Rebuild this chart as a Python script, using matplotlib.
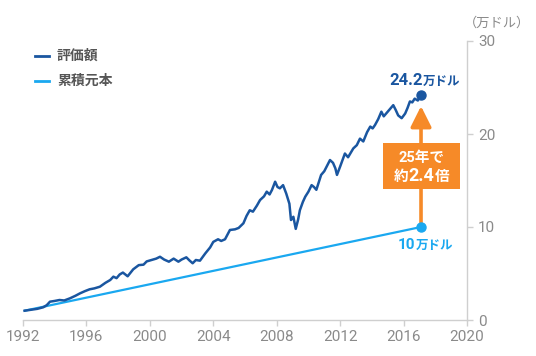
import matplotlib
matplotlib.use("Agg")
import matplotlib.pyplot as plt
from matplotlib.patches import Rectangle

# ---- data ----
years = [1992.10, 1992.5, 1992.9, 1993.28, 1993.5, 1993.7, 1994.0, 1994.3, 1994.6, 1994.96,
         1995.3, 1995.6, 1995.9, 1996.2, 1996.5, 1996.85, 1997.2, 1997.5, 1997.7, 1997.9,
         1998.1, 1998.3, 1998.6, 1998.95, 1999.3, 1999.6, 1999.8, 2000.1, 2000.4, 2000.64,
         2000.9, 2001.2, 2001.5, 2001.8, 2002.0, 2002.3, 2002.5, 2002.7, 2002.9, 2003.16,
         2003.5, 2003.8, 2004.0, 2004.3, 2004.5, 2004.74, 2005.05, 2005.37, 2005.6, 2005.9,
         2006.1, 2006.3, 2006.5, 2006.75, 2006.95, 2007.2, 2007.37, 2007.55, 2007.7, 2007.9,
         2008.05, 2008.2, 2008.4, 2008.6, 2008.8, 2008.9, 2009.05, 2009.2, 2009.35, 2009.46,
         2009.65, 2009.8, 2010.0, 2010.2, 2010.35, 2010.5, 2010.8, 2011.0, 2011.15, 2011.36,
         2011.55, 2011.7, 2011.8, 2012.0, 2012.3, 2012.5, 2012.83, 2013.05, 2013.25, 2013.46,
         2013.7, 2013.9, 2014.05, 2014.2, 2014.4, 2014.6, 2014.75, 2014.9, 2015.1, 2015.35,
         2015.5, 2015.66, 2015.88, 2016.1, 2016.25, 2016.4, 2016.55, 2016.7, 2016.9, 2017.1]
valuation = [1.00, 1.10, 1.20, 1.37, 1.60, 1.97, 2.05, 2.15, 2.10, 2.33,
             2.60, 2.87, 3.10, 3.30, 3.40, 3.58, 4.00, 4.30, 4.66, 4.50,
             4.90, 5.10, 4.70, 5.45, 5.90, 5.95, 6.30, 6.45, 6.60, 6.80,
             6.50, 6.27, 6.60, 6.27, 6.50, 6.74, 6.40, 6.10, 6.45, 6.38,
             7.17, 7.80, 8.40, 8.68, 8.50, 8.68, 9.68, 9.75, 9.90, 10.40,
             11.20, 11.80, 11.65, 12.30, 12.90, 13.30, 13.80, 13.50, 13.98, 14.87,
             14.30, 14.16, 14.50, 13.60, 12.50, 10.75, 11.10, 9.80, 10.80, 11.80,
             12.70, 13.26, 13.80, 14.50, 14.30, 14.00, 15.60, 16.00, 16.50, 17.20,
             16.90, 16.30, 15.60, 16.50, 17.90, 17.50, 18.45, 18.80, 19.50, 19.20,
             20.20, 20.80, 20.60, 20.97, 21.60, 22.40, 21.90, 22.20, 22.60, 23.10,
             22.60, 22.00, 21.70, 22.20, 22.80, 23.50, 23.40, 23.80, 23.60, 24.20]
principal_years = [1992.10, 2017.1]
principal = [1.0, 10.0]
xticks = [1992, 1996, 2000, 2004, 2008, 2012, 2016, 2020]
yticks = [0, 10, 20, 30]
legend_labels = ["評価額", "累積元本"]
final_value_label = ("24.2", "万ドル")
principal_label = ("10", "万ドル")
box_line1 = ("25年で",)
box_line2 = ("約", "2.4", "倍")
unit_label = "（万ドル）"

DARK = "#1a56a0"
LIGHT = "#1aa8f0"
ORANGE = "#f68a28"
GRAY = "#8a8a8a"
AX = "#cfcfcf"
FAM = ["Roboto", "Noto Sans CJK JP", "DejaVu Sans"]
JP = ["Noto Sans CJK JP", "DejaVu Sans"]

W, H = 536, 356
fig = plt.figure(figsize=(W / 100, H / 100), dpi=100)
ax = fig.add_axes([23 / W, 1 - 320 / H, (467 - 23) / W, (320 - 41) / H])
renderer = fig.canvas.get_renderer()

def P(x, y):
    return (x / W, 1 - y / H)

def run(x0, y, segs, color, align="left", zorder=6):
    """segs: list of (text, size, family, gap_after_px)"""
    arts = []
    widths = []
    for txt, size, fam, gap in segs:
        t = fig.text(0, 0, txt, color=color, fontsize=size, fontweight="bold",
                     family=fam, ha="left", va="baseline", zorder=zorder)
        w = t.get_window_extent(renderer).width
        arts.append(t)
        widths.append(w + gap)
    total = sum(widths) - segs[-1][3]
    x = x0 - total / 2 if align == "center" else x0
    for t, w in zip(arts, widths):
        t.set_position(P(x, y))
        x += w

ax.plot(principal_years, principal, color=LIGHT, lw=1.6, solid_capstyle="round", zorder=2)
ax.plot(years, valuation, color=DARK, lw=1.8, solid_joinstyle="round", zorder=3)
ax.plot([principal_years[-1]], [principal[-1]], "o", color=LIGHT, ms=6.5, zorder=4)
ax.plot([years[-1]], [valuation[-1]], "o", color=DARK, ms=6.5, zorder=4)

ax.set_xlim(1992, 2020)
ax.set_ylim(0, 30)
ax.set_xticks(xticks)
ax.set_yticks(yticks)
for s in ["left", "top"]:
    ax.spines[s].set_visible(False)
for s in ["right", "bottom"]:
    ax.spines[s].set_color(AX)
    ax.spines[s].set_linewidth(1.0)
ax.yaxis.tick_right()
ax.tick_params(axis="both", colors=AX, labelcolor=GRAY, length=4, width=1.0, labelsize=11)
ax.tick_params(axis="y", pad=4)
ax.tick_params(axis="x", pad=3)
for lab in ax.get_xticklabels() + ax.get_yticklabels():
    lab.set_family(FAM)

# arrow
ax.annotate("", xy=(years[-1], 23.0), xytext=(principal_years[-1], principal[-1]),
            arrowprops=dict(arrowstyle="-|>,head_length=0.9,head_width=0.45", color=ORANGE,
                            lw=2.6, shrinkA=0, shrinkB=0, mutation_scale=14), zorder=3)

# orange box
fig.patches.append(Rectangle(P(383, 189), 77 / W, 46 / H, transform=fig.transFigure,
                             facecolor=ORANGE, edgecolor="none", zorder=5))
run(421.5, 162, [(box_line1[0], 10.5, FAM, 0)], "white", align="center")
run(421.5, 181, [(box_line2[0], 10.5, JP, 0), (box_line2[1], 13, FAM, 0),
                 (box_line2[2], 10.5, JP, 0)], "white", align="center")

# value labels
run(389, 85, [(final_value_label[0], 12, FAM, 0), (final_value_label[1], 9, JP, 0)], DARK)
run(398, 249, [(principal_label[0], 11, FAM, 0), (principal_label[1], 9, JP, 0)], LIGHT)

# legend
for i, (lab, col) in enumerate(zip(legend_labels, [DARK, LIGHT])):
    y = 56 + i * 24.5
    fig.add_artist(plt.Line2D([35 / W, 49 / W], [1 - y / H, 1 - y / H], color=col, lw=2.0,
                              transform=fig.transFigure))
    fig.text(*P(57, y), lab, color="#555555", fontsize=10, fontweight="bold",
             family=JP, ha="left", va="center")

fig.text(*P(497, 23), unit_label, color=GRAY, fontsize=9.5, family=JP, ha="center", va="center")

fig.savefig("out.png", dpi=100, facecolor="white")
